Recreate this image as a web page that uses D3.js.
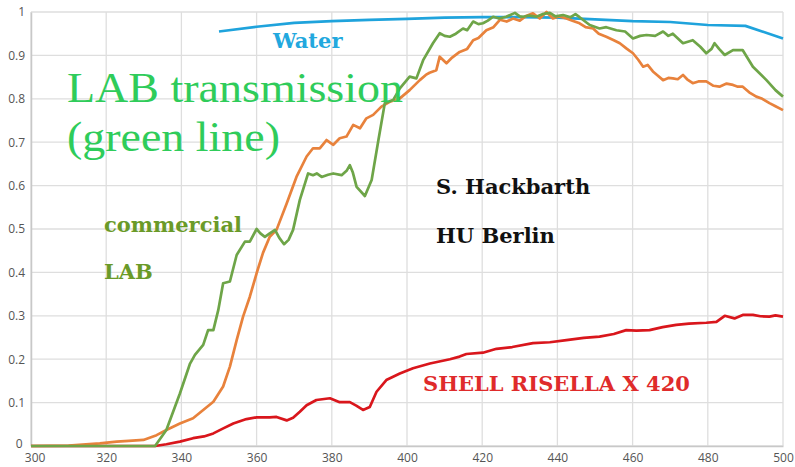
<!DOCTYPE html>
<html>
<head>
    <title>Transmission spectra</title>
    <script src="https://d3js.org/d3.v7.min.js"></script>
    <style>
        body { margin: 0; background: #fff; }
        .tick text { font-family: "Open Sans", "DejaVu Sans", sans-serif; font-size: 12px; fill: #555; }
    </style>
</head>
<body>
    <svg id="chart" width="795" height="467"></svg>

    <script>
        // wavelength (nm) / transmission pairs
        var water = [[350,0.955],[360,0.966],[370,0.975],[380,0.979],[390,0.982],[400,0.984],[410,0.987],[420,0.988],
            [430,0.988],[440,0.987],[450,0.983],[460,0.979],[470,0.977],[480,0.970],[490,0.968],[500,0.939]];

        var lab = [[300,0],[333,0],[336,0.037],[339.6,0.121],[342.3,0.19],[343.6,0.21],[345.8,0.233],[347.1,0.267],
            [348.5,0.267],[349.8,0.313],[351.1,0.375],[352.9,0.379],[354.7,0.44],[356.9,0.471],[358.2,0.471],[360,0.5],
            [361,0.49],[362.2,0.482],[363.5,0.49],[364.9,0.498],[366,0.48],[367.3,0.465],[368.5,0.475],[369.7,0.498],
            [371.5,0.567],[373.7,0.628],[375,0.624],[376,0.628],[377.3,0.62],[379,0.625],[380.4,0.628],[382.6,0.624],
            [384,0.635],[384.8,0.647],[385.6,0.63],[386.6,0.597],[388.8,0.576],[390.6,0.613],[392.4,0.705],[394.1,0.79],
            [396.3,0.797],[398.1,0.824],[400.7,0.851],[402.5,0.847],[404.3,0.889],[406.9,0.928],[408.7,0.951],[410,0.945],
            [411.4,0.943],[413,0.95],[414.9,0.962],[416,0.958],[417.6,0.978],[419,0.972],[420.2,0.974],[421.5,0.98],
            [422.9,0.989],[424.5,0.985],[426.4,0.989],[428.7,0.998],[430,0.99],[430.9,0.989],[432.5,0.992],[434.4,0.989],
            [436,0.995],[438,0.998],[439.5,0.99],[441.5,0.993],[443.5,0.988],[444.8,0.995],[445.9,0.988],[448.6,0.97],
            [451.2,0.962],[453,0.965],[455.7,0.958],[458,0.955],[460.1,0.939],[462,0.945],[463.7,0.947],[466,0.945],
            [468.1,0.955],[469.5,0.945],[470.7,0.95],[473.4,0.928],[476,0.935],[478,0.92],[479.6,0.905],[481,0.915],
            [481.8,0.928],[483,0.915],[484.5,0.901],[486.7,0.912],[489.3,0.912],[492,0.874],[495.6,0.843],[498,0.82],[500,0.805]];

        var commercial = [[300,0],[310,0.001],[318.3,0.006],[322.8,0.01],[326,0.012],[329.9,0.014],[333.4,0.025],
            [336,0.037],[339.6,0.052],[343.1,0.064],[345.8,0.083],[348.5,0.102],[351.1,0.137],[352.9,0.183],[354.7,0.244],
            [356.4,0.298],[358.2,0.344],[360,0.398],[361.7,0.445],[363.5,0.482],[365.3,0.498],[368,0.559],[370.6,0.62],
            [373.3,0.667],[375,0.686],[376.8,0.686],[378.6,0.705],[380.4,0.694],[382.1,0.709],[383.9,0.713],[385.7,0.74],
            [387.5,0.732],[389.2,0.755],[391,0.763],[393.2,0.782],[395.4,0.793],[398.1,0.801],[400.7,0.82],[403.4,0.843],
            [405,0.855],[406,0.86],[407.8,0.866],[408.7,0.897],[410.5,0.882],[412,0.895],[414,0.908],[416,0.915],
            [417.6,0.935],[419,0.94],[421.1,0.958],[423,0.965],[424.7,0.982],[426.5,0.978],[428.2,0.985],[430,0.98],
            [431.5,0.99],[433.5,0.997],[435.3,0.985],[437.1,1.0],[438.8,0.985],[440.5,0.99],[442.4,0.985],[444,0.98],
            [445.9,0.974],[447.5,0.965],[449.5,0.962],[451,0.95],[453,0.943],[455,0.935],[456.6,0.928],[458.5,0.915],
            [460.1,0.905],[461.5,0.89],[462.8,0.874],[464,0.878],[465.4,0.863],[466.5,0.855],[468.1,0.843],[469.5,0.848],
            [470.7,0.847],[472,0.845],[473.4,0.855],[474.5,0.845],[476,0.836],[477.5,0.84],[479.6,0.84],[481.5,0.83],
            [483.1,0.828],[485,0.835],[486.7,0.832],[488,0.828],[489.3,0.828],[491,0.815],[492.9,0.805],[494.5,0.8],
            [496.4,0.79],[498,0.783],[500,0.774]];

        var risella = [[300,0],[333,0],[336,0.004],[339.6,0.01],[343.1,0.018],[346,0.022],[348.5,0.029],[351,0.04],
            [353.8,0.052],[357.3,0.062],[360,0.066],[363.5,0.066],[365.3,0.067],[368,0.059],[369.7,0.065],[371.5,0.079],
            [373.3,0.094],[375.9,0.106],[379.5,0.11],[382.1,0.101],[384.8,0.101],[386.5,0.093],[388.3,0.083],[390.1,0.09],
            [391.9,0.125],[394.5,0.152],[398.1,0.167],[401.6,0.179],[406.1,0.19],[411.4,0.2],[414,0.206],[415.8,0.212],
            [420.2,0.215],[423.8,0.224],[428,0.228],[433.5,0.237],[438,0.239],[442.4,0.244],[447,0.249],[451.2,0.252],
            [455,0.258],[458.3,0.267],[461,0.266],[464.5,0.267],[468,0.274],[471.6,0.279],[475,0.282],[479.6,0.284],
            [482.3,0.286],[484.5,0.3],[487.1,0.294],[489.3,0.302],[492,0.302],[494,0.299],[496.4,0.298],[498,0.301],[500,0.298]];

        var xTicks = [300, 320, 340, 360, 380, 400, 420, 440, 460, 480, 500];
        var yTicks = [0, 0.1, 0.2, 0.3, 0.4, 0.5, 0.6, 0.7, 0.8, 0.9, 1];

        var margin = { top: 12, right: 12, bottom: 21, left: 31 };
        var width = 795 - margin.left - margin.right;
        var height = 467 - margin.top - margin.bottom;

        var svg = d3.select("#chart");
        var g = svg.append("g").attr("transform", "translate(" + margin.left + "," + margin.top + ")");

        var x = d3.scaleLinear().domain([300, 500]).range([0, width]);
        var y = d3.scaleLinear().domain([0, 1]).range([height, 0]);

        // grid
        g.append("g").selectAll("line").data(xTicks).enter().append("line")
            .attr("x1", function(d) { return x(d); }).attr("x2", function(d) { return x(d); })
            .attr("y1", 0).attr("y2", height)
            .attr("stroke", "#dedede").attr("stroke-width", 1.3);
        g.append("g").selectAll("line").data(yTicks).enter().append("line")
            .attr("x1", 0).attr("x2", width)
            .attr("y1", function(d) { return y(d); }).attr("y2", function(d) { return y(d); })
            .attr("stroke", "#dedede").attr("stroke-width", 1.3);

        // axes
        var xAxis = g.append("g").attr("transform", "translate(0," + height + ")")
            .call(d3.axisBottom(x).tickValues(xTicks).tickSize(0).tickPadding(7).tickFormat(d3.format("d")));
        xAxis.select(".domain").attr("stroke", "#c8c8c8").attr("stroke-width", 1.5);
        // first x label nudged right so it clears the "0" of the y axis
        xAxis.selectAll(".tick").filter(function(d) { return d === 300; }).select("text").attr("dx", "0.3em");

        var yAxis = g.append("g")
            .call(d3.axisLeft(y).tickValues(yTicks).tickSize(0).tickPadding(6).tickFormat(function(d) { return d === 0 || d === 1 ? d : d3.format(".1f")(d); }));
        yAxis.select(".domain").attr("stroke", "#c8c8c8").attr("stroke-width", 1.5);
        yAxis.selectAll(".tick").filter(function(d) { return d === 0; }).select("text").attr("dy", "0.1em").attr("dx", "-0.2em");

        var line = d3.line()
            .x(function(d) { return x(d[0]); })
            .y(function(d) { return y(d[1]); });

        var series = [
            { data: water, color: "#1fa3dc" },
            { data: risella, color: "#d9161c" },
            { data: commercial, color: "#e8823c" },
            { data: lab, color: "#6ea548" }
        ];
        g.selectAll(".series").data(series).enter().append("path")
            .attr("class", "series")
            .attr("d", function(d) { return line(d.data); })
            .attr("fill", "none")
            .attr("stroke", function(d) { return d.color; })
            .attr("stroke-width", 2.7)
            .attr("stroke-linejoin", "round");

        // annotations (page coordinates)
        var bold = "'DejaVu Serif', serif";
        function label(txt, px, py, size, color, family, weight, len) {
            var t = svg.append("text").attr("x", px).attr("y", py)
                .attr("font-family", family).attr("font-size", size)
                .attr("font-weight", weight).attr("fill", color).text(txt);
            if (len) t.attr("textLength", len).attr("lengthAdjust", "spacingAndGlyphs");
        }
        label("Water", 273, 48, 21, "#22a8de", bold, "bold");
        label("LAB transmission", 67, 102, 42, "#2fcc5a", "'Liberation Serif', serif", "normal", 336);
        label("(green line)", 67, 151, 42, "#2fcc5a", "'Liberation Serif', serif", "normal", 213);
        label("commercial", 104, 232, 21, "#6a9a28", bold, "bold");
        label("LAB", 104, 279, 21, "#6a9a28", bold, "bold");
        label("S. Hackbarth", 436, 194, 21, "#111", bold, "bold");
        label("HU Berlin", 436, 243, 21, "#111", bold, "bold");
        label("SHELL RISELLA X 420", 423, 391, 21, "#df2b2b", bold, "bold");
    </script>
</body>
</html>
